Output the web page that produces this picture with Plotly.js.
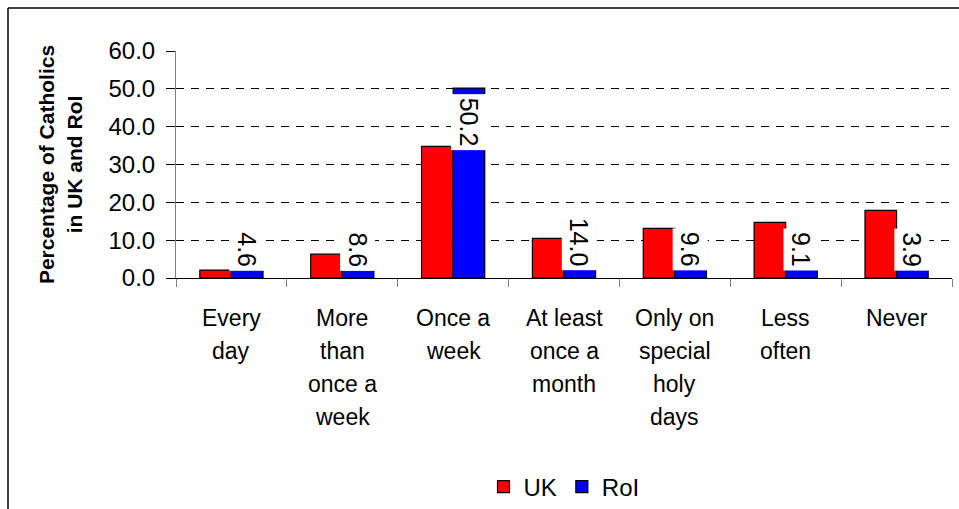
<!DOCTYPE html>
<html>
<head>
<meta charset="utf-8">
<script src="https://cdn.plot.ly/plotly-3.0.1.min.js"></script>
<style>
  html, body { margin: 0; padding: 0; background: #ffffff; }
  #chart { width: 959px; height: 509px; }
</style>
</head>
<body>
<div id="chart"></div>
<script>
// ---- data ----
const categories = ["Every day", "More than once a week", "Once a week", "At least once a month", "Only on special holy days", "Less often", "Never"];
const categoryLines = [["Every", "day"], ["More", "than", "once a", "week"], ["Once a", "week"], ["At least", "once a", "month"], ["Only on", "special", "holy", "days"], ["Less", "often"], ["Never"]];
const ukValues = [2.1, 6.3, 34.8, 10.5, 13.1, 14.7, 17.9];
const roiValues = [4.6, 8.6, 50.2, 14.0, 9.6, 9.1, 3.9];
const seriesNames = ["UK", "RoI"];
const yTitle = "Percentage of Catholics<br>in UK and RoI";
const yTicks = [0, 10, 20, 30, 40, 50, 60];

// ---- layout constants ----
const W = 959, H = 509;
const mL = 176, mR = 7, mT = 51, mB = 231;
const pw = W - mL - mR, ph = H - mT - mB;
const bargap = 0.43;
const FONT = "Liberation Sans, Arial, Helvetica, sans-serif";

const catPx = pw / categories.length;
const barPx = catPx * (1 - bargap) / 2;

const traces = [
  { type: 'bar', name: seriesNames[0], x: categories, y: ukValues,
    marker: { color: '#FF0000', line: { color: '#000000', width: 1.2 } }, hoverinfo: 'skip' },
  { type: 'bar', name: seriesNames[1], x: categories, y: roiValues,
    marker: { color: '#0000FF', line: { color: '#000000', width: 1.2 } }, hoverinfo: 'skip' }
];

const annotations = [];
// RoI data labels (rotated, white boxes)
roiValues.forEach((v, i) => {
  const atEnd = v > 30;
  annotations.push({
    xref: 'x', yref: 'y', x: categories[i], y: atEnd ? v : 0,
    xshift: barPx / 2,
    yanchor: atEnd ? 'top' : 'bottom', xanchor: 'center',
    yshift: atEnd ? -6 : 7,
    text: v.toFixed(1), textangle: 90, showarrow: false,
    bgcolor: '#ffffff', borderpad: 3,
    font: { family: FONT, size: 25, color: '#000000' }
  });
});
// category labels, one line each
categoryLines.forEach((lines, i) => {
  lines.forEach((t, j) => {
    annotations.push({
      xref: 'x', yref: 'y', x: categories[i], y: 0,
      yanchor: 'middle', xanchor: 'center', yshift: -(39.5 + 33 * j),
      text: t, showarrow: false,
      font: { family: FONT, size: 23, color: '#000000' }
    });
  });
});

// outer frame (top and left edges)
const px2x = p => (p - mL) / pw;
const py2y = p => 1 - (p - mT) / ph;
const shapes = [
  { type: 'line', xref: 'paper', yref: 'paper', x0: px2x(8), x1: px2x(W + 5), y0: py2y(8), y1: py2y(8), line: { color: '#000000', width: 1.5 } },
  { type: 'line', xref: 'paper', yref: 'paper', x0: px2x(8), x1: px2x(8), y0: py2y(8), y1: py2y(H + 5), line: { color: '#000000', width: 1.5 } }
];

const layout = {
  width: W, height: H,
  margin: { l: mL, r: mR, t: mT, b: mB, pad: 0 },
  paper_bgcolor: '#ffffff', plot_bgcolor: '#ffffff',
  font: { family: FONT, color: '#000000' },
  barmode: 'group', bargap: bargap, bargroupgap: 0,
  showlegend: true,
  legend: {
    orientation: 'h', xref: 'paper', x: 0.5, xanchor: 'center',
    yref: 'container', y: 1 - 487 / H, yanchor: 'middle',
    font: { family: FONT, size: 24, color: '#000000' },
    bgcolor: 'rgba(0,0,0,0)', itemwidth: 30
  },
  xaxis: {
    type: 'category', showticklabels: false, showgrid: false, zeroline: false,
    showline: true, linecolor: '#000000', linewidth: 1,
    ticks: 'outside', tickson: 'boundaries', ticklen: 8, tickcolor: '#808080', tickwidth: 1,
    fixedrange: true
  },
  yaxis: {
    range: [0, 60], tickvals: yTicks, tickformat: '.1f',
    showgrid: true, gridcolor: '#000000', gridwidth: 1, griddash: '8px,7px',
    zeroline: false, showline: true, linecolor: '#808080', linewidth: 1,
    ticks: 'outside', ticklen: 9, tickcolor: '#000000', tickwidth: 1,
    ticklabelstandoff: 6,
    tickfont: { family: FONT, size: 24, color: '#000000' },
    title: { text: yTitle, font: { family: FONT, size: 21, weight: 700, color: '#000000' }, standoff: 20 },
    automargin: false, fixedrange: true
  },
  annotations: annotations,
  shapes: shapes
};

Plotly.newPlot('chart', traces, layout, { displayModeBar: false, staticPlot: true });
</script>
</body>
</html>
